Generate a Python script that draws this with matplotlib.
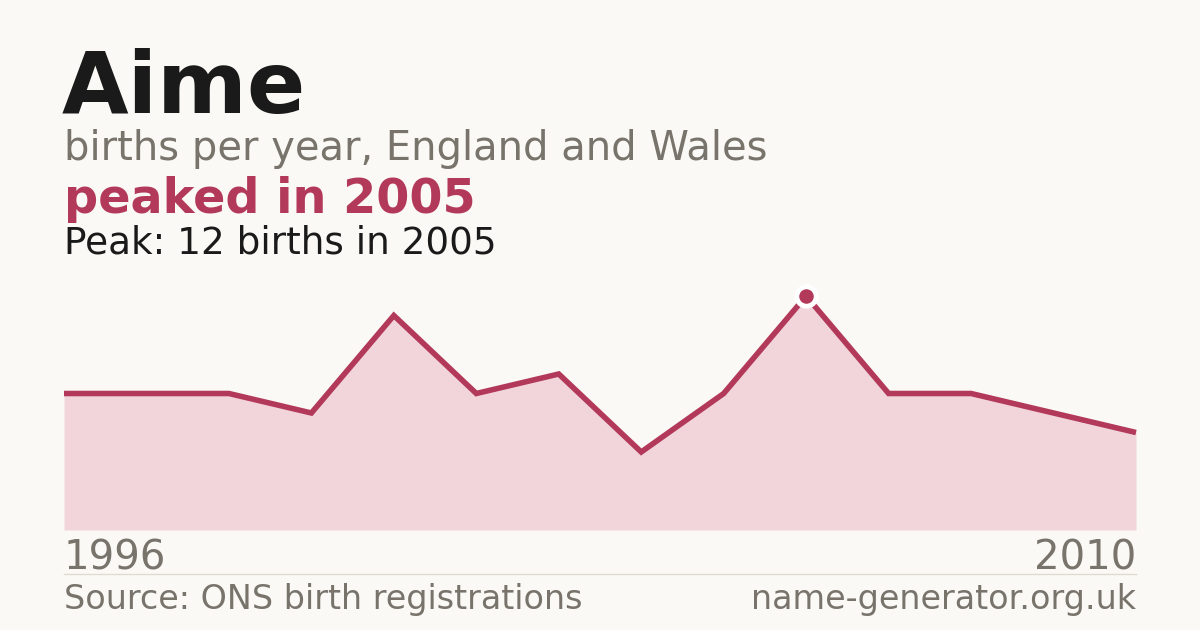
import matplotlib
matplotlib.use("Agg")
import matplotlib.pyplot as plt

# ---- data ----
name = "Aime"
first_year = 1996
last_year = 2010
peak_year = 2005
births = [7, 7, 7, 6, 11, 7, 8, 4, 7, 12, 7, 7, 6, 5]

BG = "#faf9f5"
LINE = "#b3395a"
FILL = "#f1d5db"
GRAY = "#78736b"
DARK = "#1a1a1a"

W, H = 1200, 630
fig = plt.figure(figsize=(W / 100, H / 100), dpi=100, facecolor=BG)

def fx(px):
    return px / W

def fy(py):
    return 1 - py / H

# chart axes: left 64, right 1136, baseline 530, value 12 at y=296
ax = fig.add_axes([fx(64), fy(530), fx(1136 - 64), (530 - 296) / H])
ax.set_facecolor("none")
xs = list(range(len(births)))
ax.fill_between(xs, births, 0, color=FILL, linewidth=0)
ax.plot(xs, births, color=LINE, linewidth=4, solid_joinstyle="miter",
        solid_capstyle="butt", clip_on=False)
pk = births.index(max(births))
ax.plot([xs[pk]], [births[pk]], marker="o", markersize=14, color=LINE,
        markeredgecolor="white", markeredgewidth=3.5, clip_on=False, zorder=5)
ax.set_xlim(0, len(births) - 1)
ax.set_ylim(0, max(births))
ax.axis("off")

def t(x, y, s, size, color, weight="normal", ha="left"):
    fig.text(fx(x), fy(y), s, fontsize=size, color=color, fontweight=weight,
             ha=ha, va="baseline", family="DejaVu Sans")

t(62, 113, name, 62, DARK, "bold")
t(64, 160, "births per year, England and Wales", 28.8, GRAY)
t(64, 213, f"peaked in {peak_year}", 34.4, LINE, "bold")
t(64, 254, f"Peak: {max(births)} births in {peak_year}", 26.9, DARK)
t(64, 570, str(first_year), 29, GRAY)
t(1136, 570, str(last_year), 29, GRAY, ha="right")
t(64, 609, "Source: ONS birth registrations", 24, GRAY)
t(1136, 609, "name-generator.org.uk", 24, GRAY, ha="right")

fig.add_artist(plt.Line2D([fx(64), fx(1136)], [fy(574), fy(574)], color="#dedbd3", linewidth=1))

fig.savefig("out.png", dpi=100, facecolor=BG)
